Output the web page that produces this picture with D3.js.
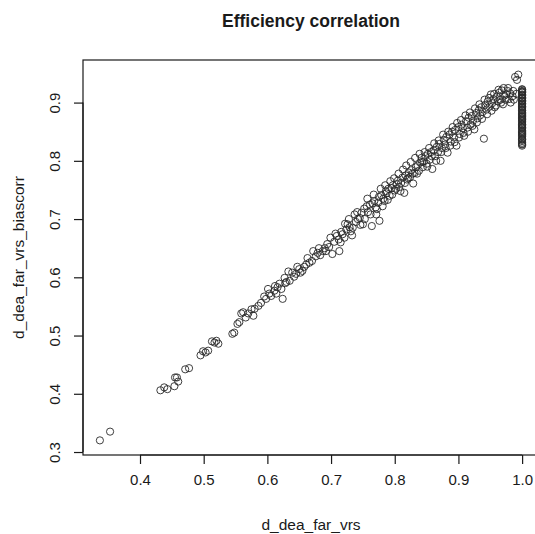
<!DOCTYPE html>
<html>
<head>
<meta charset="utf-8">
<script src="https://cdn.jsdelivr.net/npm/d3@7"></script>
<style>
  html, body { margin: 0; padding: 0; background: #fff; }
  svg { display: block; }
  text { font-family: "Liberation Sans", Arial, sans-serif; fill: #1a1a1a; }
</style>
</head>
<body>
<svg id="chart" width="535" height="534"></svg>
<script>
// Efficiency scores: plain DEA (x) against bias-corrected DEA (y)
const effVrs = [
  0.337, 0.353, 0.432, 0.438, 0.443, 0.454, 0.455, 0.458, 0.460, 0.471,
  0.477, 0.495, 0.499, 0.503, 0.507, 0.513, 0.517, 0.520, 0.523, 0.545,
  0.548, 0.553, 0.556, 0.559, 0.566, 0.570, 0.578, 0.580, 0.586, 0.590,
  0.595, 0.598, 0.603, 0.606, 0.611, 0.614, 0.616, 0.619, 0.622, 0.624,
  0.627, 0.630, 0.635, 0.639, 0.642, 0.645, 0.650, 0.652, 0.655, 0.658,
  0.663, 0.666, 0.670, 0.676, 0.679, 0.683, 0.687, 0.690, 0.694, 0.697,
  0.702, 0.705, 0.709, 0.712, 0.713, 0.716, 0.718, 0.721, 0.724, 0.726,
  0.729, 0.731, 0.734, 0.737, 0.739, 0.742, 0.745, 0.748, 0.750, 0.752,
  0.756, 0.758, 0.761, 0.764, 0.765, 0.768, 0.770, 0.772, 0.775, 0.776,
  0.779, 0.782, 0.784, 0.786, 0.787, 0.790, 0.792, 0.795, 0.797, 0.800,
  0.803, 0.805, 0.807, 0.810, 0.812, 0.815, 0.817, 0.819, 0.822, 0.824,
  0.826, 0.829, 0.831, 0.833, 0.836, 0.838, 0.840, 0.842, 0.844, 0.846,
  0.848, 0.850, 0.852, 0.855, 0.857, 0.859, 0.861, 0.863, 0.866, 0.868,
  0.870, 0.872, 0.874, 0.877, 0.879, 0.881, 0.883, 0.886, 0.888, 0.890,
  0.893, 0.895, 0.897, 0.900, 0.902, 0.905, 0.907, 0.909, 0.912, 0.914,
  0.916, 0.919, 0.921, 0.923, 0.925, 0.928, 0.930, 0.932, 0.934, 0.936,
  0.938, 0.940, 0.942, 0.944, 0.946, 0.949, 0.951, 0.953, 0.955, 0.957,
  0.960, 0.962, 0.964, 0.966, 0.968, 0.970, 0.972, 0.975, 0.977, 0.979,
  0.981, 0.985, 0.989, 0.992, 0.994,
  0.562, 0.575, 0.601, 0.612, 0.628, 0.633, 0.647, 0.661, 0.672, 0.681,
  0.692, 0.699, 0.707, 0.715, 0.722, 0.728, 0.733, 0.741, 0.746, 0.753,
  0.757, 0.762, 0.767, 0.771, 0.774, 0.778, 0.781, 0.785, 0.789, 0.793,
  0.796, 0.799, 0.802, 0.806, 0.809, 0.813, 0.816, 0.818, 0.821, 0.825,
  0.828, 0.832, 0.835, 0.839, 0.843, 0.847, 0.851, 0.854, 0.858, 0.862,
  0.865, 0.869, 0.873, 0.876, 0.880, 0.884, 0.887, 0.891, 0.894, 0.898,
  0.901, 0.904, 0.908, 0.911, 0.915, 0.918, 0.922, 0.926, 0.929, 0.933,
  0.937, 0.941, 0.945, 0.948, 0.952, 0.956, 0.959, 0.963, 0.967, 0.971,
  0.974, 0.978, 0.982, 0.986, 0.987, 0.991,
  // fully efficient units
  1.000, 1.000, 1.000, 1.000, 1.000, 1.000, 1.000, 1.000, 1.000, 1.000,
  1.000, 1.000, 1.000, 1.000, 1.000, 1.000, 1.000, 1.000, 1.000, 1.000,
  1.000, 1.000, 1.000, 1.000, 1.000, 1.000, 1.000, 1.000, 1.000, 1.000,
  1.000, 1.000, 1.000, 1.000, 1.000, 1.000, 1.000, 1.000, 1.000, 1.000,
  1.000, 1.000, 1.000, 1.000, 1.000, 1.000, 1.000, 1.000, 1.000, 1.000,
  1.000, 1.000, 1.000, 1.000, 1.000, 1.000
];

const effBiasCorr = [
  0.320, 0.335, 0.406, 0.411, 0.408, 0.413, 0.428, 0.428, 0.421, 0.442,
  0.444, 0.466, 0.473, 0.471, 0.474, 0.490, 0.488, 0.491, 0.486, 0.503,
  0.505, 0.520, 0.523, 0.538, 0.531, 0.538, 0.534, 0.546, 0.551, 0.556,
  0.567, 0.563, 0.572, 0.568, 0.577, 0.572, 0.583, 0.589, 0.580, 0.563,
  0.599, 0.592, 0.594, 0.608, 0.601, 0.606, 0.614, 0.608, 0.611, 0.618,
  0.633, 0.625, 0.628, 0.636, 0.642, 0.638, 0.645, 0.650, 0.657, 0.652,
  0.640, 0.661, 0.671, 0.665, 0.645, 0.678, 0.674, 0.668, 0.682, 0.691,
  0.686, 0.679, 0.685, 0.708, 0.695, 0.700, 0.702, 0.711, 0.691, 0.718,
  0.722, 0.712, 0.725, 0.688, 0.727, 0.731, 0.720, 0.717, 0.738, 0.697,
  0.741, 0.735, 0.731, 0.748, 0.744, 0.752, 0.740, 0.753, 0.758, 0.749,
  0.760, 0.766, 0.755, 0.762, 0.771, 0.745, 0.775, 0.768, 0.780, 0.772,
  0.784, 0.761, 0.779, 0.789, 0.792, 0.783, 0.797, 0.805, 0.789, 0.799,
  0.808, 0.795, 0.812, 0.802, 0.815, 0.786, 0.818, 0.808, 0.824, 0.815,
  0.829, 0.800, 0.822, 0.836, 0.828, 0.841, 0.814, 0.845, 0.833, 0.850,
  0.840, 0.853, 0.826, 0.858, 0.846, 0.862, 0.856, 0.843, 0.868, 0.857,
  0.874, 0.862, 0.877, 0.869, 0.854, 0.882, 0.873, 0.887, 0.878, 0.892,
  0.884, 0.838, 0.896, 0.888, 0.902, 0.893, 0.914, 0.899, 0.906, 0.892,
  0.910, 0.902, 0.917, 0.905, 0.921, 0.897, 0.912, 0.914, 0.920, 0.906,
  0.916, 0.911, 0.944, 0.939, 0.948,
  0.540, 0.545, 0.580, 0.585, 0.590, 0.610, 0.618, 0.622, 0.645, 0.650,
  0.645, 0.668, 0.675, 0.660, 0.692, 0.700, 0.672, 0.712, 0.690, 0.700,
  0.735, 0.708, 0.742, 0.708, 0.728, 0.752, 0.722, 0.758, 0.733, 0.765,
  0.742, 0.770, 0.752, 0.778, 0.748, 0.785, 0.762, 0.792, 0.770, 0.798,
  0.778, 0.805, 0.778, 0.812, 0.798, 0.815, 0.790, 0.822, 0.808, 0.830,
  0.800, 0.835, 0.815, 0.845, 0.822, 0.850, 0.826, 0.858, 0.832, 0.865,
  0.840, 0.870, 0.848, 0.878, 0.850, 0.883, 0.860, 0.890, 0.866, 0.897,
  0.872, 0.905, 0.880, 0.908, 0.886, 0.915, 0.895, 0.922, 0.900, 0.925,
  0.905, 0.925, 0.900, 0.920, 0.905, 0.915,
  // fully efficient units
  0.826, 0.829, 0.831, 0.834, 0.837, 0.839, 0.842, 0.845, 0.847, 0.850,
  0.852, 0.855, 0.858, 0.860, 0.862, 0.865, 0.868, 0.871, 0.873, 0.876,
  0.878, 0.881, 0.883, 0.886, 0.889, 0.891, 0.894, 0.896, 0.899, 0.902,
  0.904, 0.907, 0.909, 0.912, 0.914, 0.917, 0.919, 0.922, 0.828, 0.836,
  0.844, 0.849, 0.857, 0.863, 0.870, 0.875, 0.880, 0.887, 0.893, 0.898,
  0.903, 0.908, 0.913, 0.918, 0.920, 0.923
];

const xTicks = [0.4, 0.5, 0.6, 0.7, 0.8, 0.9, 1.0];
const yTicks = [0.3, 0.4, 0.5, 0.6, 0.7, 0.8, 0.9];

const titleText = "Efficiency correlation";
const xTitle = "d_dea_far_vrs";
const yTitle = "d_dea_far_vrs_biascorr";

const points = effVrs.map((v, i) => ({ x: v, y: effBiasCorr[i] }));

const svg = d3.select("#chart");
const plot = { left: 83, right: 539, top: 60, bottom: 455 };

// 4% padding around the data range on both axes
function padded(vals) {
  const [lo, hi] = d3.extent(vals);
  const p = (hi - lo) * 0.04;
  return [lo - p, hi + p];
}

const x = d3.scaleLinear().domain(padded(effVrs)).range([plot.left, plot.right]);
const y = d3.scaleLinear().domain(padded(effBiasCorr)).range([plot.bottom, plot.top]);

// points
svg.append("g")
  .selectAll("circle")
  .data(points)
  .join("circle")
  .attr("cx", d => x(d.x))
  .attr("cy", d => y(d.y))
  .attr("r", 3.6)
  .attr("fill", "none")
  .attr("stroke", "#2a2a2a")
  .attr("stroke-width", 0.9);

// plot frame
svg.append("rect")
  .attr("x", plot.left)
  .attr("y", plot.top)
  .attr("width", plot.right - plot.left)
  .attr("height", plot.bottom - plot.top)
  .attr("fill", "none")
  .attr("stroke", "#1a1a1a")
  .attr("stroke-width", 1.2);

// x axis
const xAxis = d3.axisBottom(x).tickValues(xTicks).tickFormat(d3.format(".1f")).tickSize(9).tickPadding(10);
const gx = svg.append("g").attr("transform", `translate(0,${plot.bottom})`).call(xAxis);
gx.select(".domain")
  .attr("d", `M${x(xTicks[0])},0H${x(xTicks[xTicks.length - 1])}`)
  .attr("stroke", "#1a1a1a").attr("stroke-width", 1.2);
gx.selectAll(".tick line").attr("stroke", "#1a1a1a").attr("stroke-width", 1.2);
gx.selectAll(".tick text")
  .attr("font-size", 15)
  .attr("font-family", "Liberation Sans, Arial, sans-serif")
  .attr("fill", "#1a1a1a");

// y axis, labels rotated parallel to the axis
const yAxis = d3.axisLeft(y).tickValues(yTicks).tickFormat(d3.format(".1f")).tickSize(9).tickPadding(10);
const gy = svg.append("g").attr("transform", `translate(${plot.left},0)`).call(yAxis);
gy.select(".domain")
  .attr("d", `M0,${y(yTicks[0])}V${y(yTicks[yTicks.length - 1])}`)
  .attr("stroke", "#1a1a1a").attr("stroke-width", 1.2);
gy.selectAll(".tick line").attr("stroke", "#1a1a1a").attr("stroke-width", 1.2);
gy.selectAll(".tick text")
  .attr("font-size", 15)
  .attr("font-family", "Liberation Sans, Arial, sans-serif")
  .attr("fill", "#1a1a1a")
  .attr("x", null).attr("dy", null)
  .attr("text-anchor", "middle")
  .attr("transform", "translate(-23,0) rotate(-90)");

// titles
const cx = (plot.left + plot.right) / 2;
svg.append("text")
  .attr("x", cx).attr("y", 27)
  .attr("text-anchor", "middle")
  .attr("font-size", 17.5).attr("font-weight", "bold")
  .text(titleText);

svg.append("text")
  .attr("x", cx).attr("y", 530)
  .attr("text-anchor", "middle")
  .attr("font-size", 15.5)
  .text(xTitle);

svg.append("text")
  .attr("transform", `translate(24,${(plot.top + plot.bottom) / 2}) rotate(-90)`)
  .attr("text-anchor", "middle")
  .attr("font-size", 15.5)
  .text(yTitle);
</script>
</body>
</html>
